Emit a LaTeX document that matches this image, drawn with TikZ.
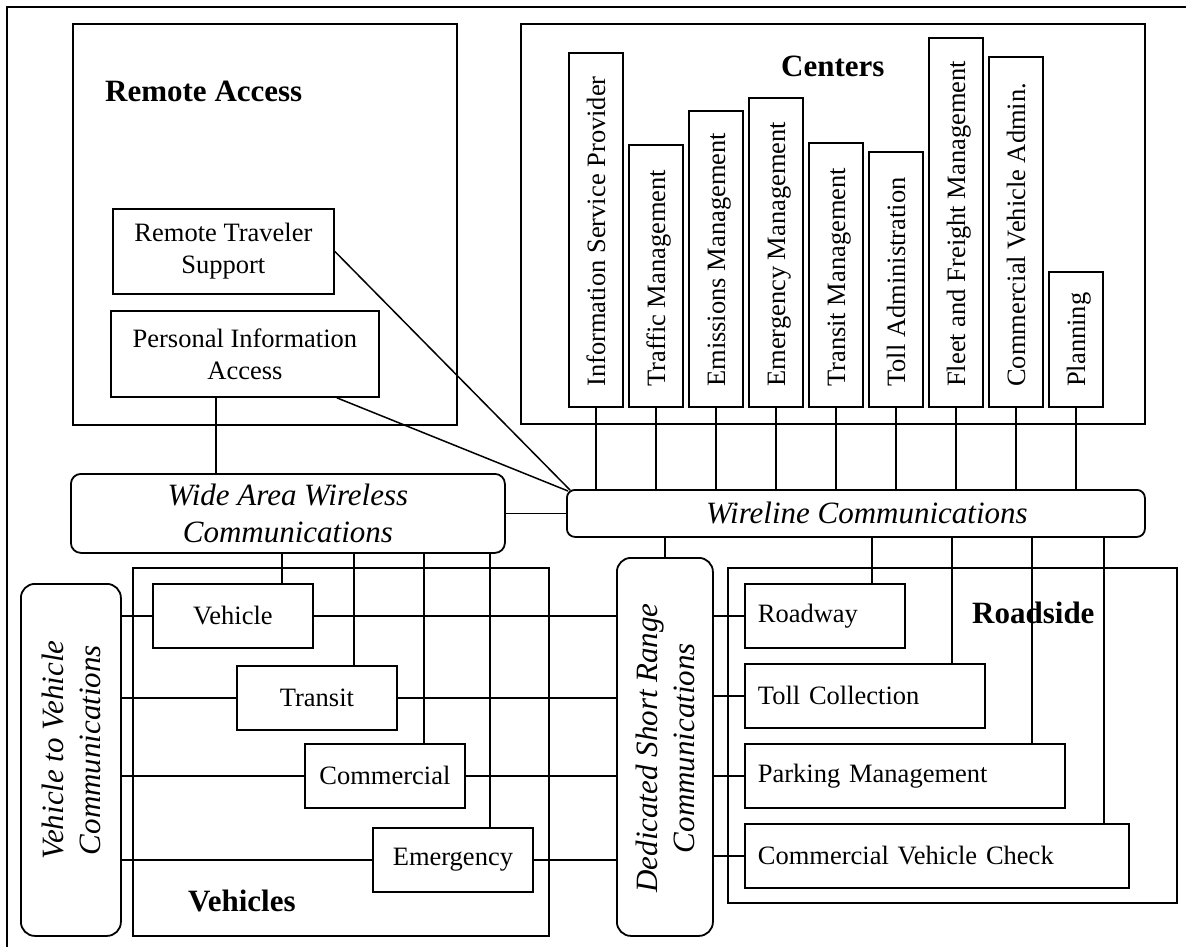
\documentclass[tikz,border=0pt]{standalone}
\usepackage{fontspec}
\setmainfont{Liberation Serif}
\usetikzlibrary{calc}
\newcommand\bodyfont{\fontsize{26.5}{32}\selectfont}
\newcommand\titlefont{\fontsize{31}{37}\selectfont\bfseries}
\newcommand\commfont{\fontsize{31}{37}\selectfont\itshape}
\begin{document}
\begin{tikzpicture}[x=1pt,y=-1pt,
  box/.style={draw, line width=1.8pt, inner sep=0pt, font=\bodyfont, align=center, anchor=north west},
  roadbox/.style={box, align=left, inner xsep=13pt, minimum height=64},
  comm/.style={draw, line width=1.8pt, inner sep=0pt, font=\commfont, align=center, anchor=north west},
  commtext/.style={font=\commfont, align=center, inner sep=0pt, rotate=90},
  title/.style={font=\titlefont, inner sep=0pt, anchor=base west},
  collabel/.style={font=\bodyfont, inner sep=0pt, rotate=90, anchor=base west},
  link/.style={line width=1.5pt}]
\useasboundingbox (0,0) rectangle (1186,947);

% outer frame
\draw[line width=1.8pt] (7,947) -- (7,7) -- (1186,7);

% ---------------- Remote access ----------------
\node[box, minimum width=384, minimum height=401] (ra) at (72,23) {};
\node[title] (raT) at (105,102) {Remote Access};
\node[box, minimum width=221, minimum height=85] (rts) at (112,208) {Remote Traveler\\Support};
\node[box, minimum width=268, minimum height=86] (pia) at (110,310) {Personal Information\\Access};

% ---------------- Communications ----------------
\node[comm, rounded corners=10pt, minimum width=434, minimum height=79] (waw) at (70,473) {Wide Area Wireless\\Communications};
\node[comm, rounded corners=8pt, minimum width=578, minimum height=47] (wl) at (566,489) {\hspace*{22pt}Wireline Communications};
\node[comm, rounded corners=14pt, minimum width=100, minimum height=352] (v2v) at (20,583) {};
\node[commtext] (v2vT) at (71,750) {Vehicle to Vehicle\\Communications};
\node[comm, rounded corners=14pt, minimum width=96, minimum height=378] (dsrc) at (616,557) {};
\node[commtext] (dsrcT) at (665,748) {Dedicated Short Range\\Communications};

% ---------------- Centers ----------------
\node[box, minimum width=624, minimum height=400] (cen) at (520,23) {};
\node[title] (cenT) at (781,77) {Centers};
\foreach \i/\t/\n/\l in {0/54/isp/Information Service Provider,
                         1/146/tm/Traffic Management,
                         2/112/em/Emissions Management,
                         3/99/emm/Emergency Management,
                         4/144/trm/Transit Management,
                         5/153/ta/Toll Administration,
                         6/39/ffm/Fleet and Freight Management,
                         7/58/cva/Commercial Vehicle Admin.,
                         8/273/pl/Planning}{
  \node[box, anchor=south west, minimum width=54, minimum height={408-\t}] (\n) at ({568+60*\i},408) {};
  \node[collabel] (\n T) at ({568+60*\i+37},387) {\l};
  \draw[link] (\n.south) -- (\n.south |- wl.north);
}

% ---------------- Vehicles ----------------
\node[box, minimum width=416, minimum height=368] (veh) at (132,567) {};
\node[title] (vehT) at (188,911) {Vehicles};
\node[box, minimum width=160, minimum height=64] (vehicle) at (152,583) {Vehicle};
\node[box, minimum width=160, minimum height=64] (transit) at (236,665) {Transit};
\node[box, minimum width=160, minimum height=64] (commercial) at (304,743) {Commercial};
\node[box, minimum width=160, minimum height=64] (emergency) at (372,827) {Emergency};

% ---------------- Roadside ----------------
\node[box, minimum width=449, minimum height=335] (road) at (727,567) {};
\node[title] (roadT) at (972,623) {Roadside};
\node[roadbox, text width=134] (roadway) at (744,583) {Roadway};
\node[roadbox, text width=214] (toll) at (744,663) {Toll Collection};
\node[roadbox, text width=294] (parking) at (744,743) {Parking Management};
\node[roadbox, text width=358] (cvc) at (744,823) {Commercial Vehicle Check};

% ---------------- connectors ----------------
\coordinate (xa) at (216,0);
\coordinate (xb) at (282,0);
\coordinate (xc) at (354,0);
\coordinate (xd) at (424,0);
\coordinate (xe) at (490,0);
\coordinate (xf) at (872,0);
\coordinate (xg) at (952,0);
\coordinate (xh) at (1032,0);
\coordinate (xi) at (1104,0);

% remote access to the networks
\draw[link] (pia.south -| xa) -- (waw.north -| xa);
\draw[link] (rts.east) -- ($(wl.north west)+(4,1)$);
\draw[link] ($(pia.south east)+(-43,0)$) -- ($(wl.north west)+(2,2)$);
\draw[link] (waw.east) -- (wl.west);

% wide area wireless to vehicles
\draw[link] (waw.south -| xb) -- (vehicle.north -| xb);
\draw[link] (waw.south -| xc) -- (transit.north -| xc);
\draw[link] (waw.south -| xd) -- (commercial.north -| xd);
\draw[link] (waw.south -| xe) -- (emergency.north -| xe);

% wireline to short range and roadside
\draw[link] (wl.south -| dsrc.north) -- (dsrc.north);
\draw[link] (wl.south -| xf) -- (roadway.north -| xf);
\draw[link] (wl.south -| xg) -- (toll.north -| xg);
\draw[link] (wl.south -| xh) -- (parking.north -| xh);
\draw[link] (wl.south -| xi) -- (cvc.north -| xi);

% vehicle to vehicle links and short range links
\foreach \v in {vehicle,transit,commercial,emergency}{
  \draw[link] (v2v.east |- \v.west) -- (\v.west);
  \draw[link] (\v.east) -- (dsrc.west |- \v.east);
}
\foreach \r in {roadway,toll,parking,cvc}{
  \draw[link] (dsrc.east |- \r.west) -- (\r.west);
}
\end{tikzpicture}
\end{document}
